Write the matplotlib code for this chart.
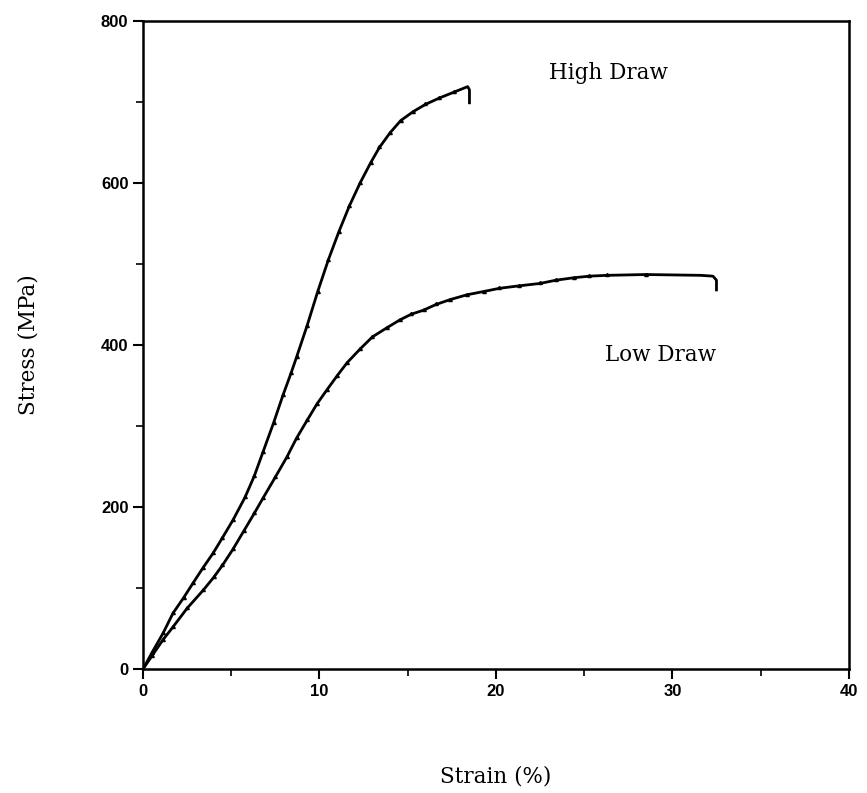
import matplotlib
matplotlib.use("Agg")
import matplotlib.pyplot as plt
from matplotlib.ticker import MultipleLocator

# High draw curve (strain %, stress MPa)
high_strain = [0, 0.5, 1.13, 1.7, 2.3, 2.83, 3.4, 3.97, 4.5, 5.1, 5.78, 6.3, 6.8, 7.4, 7.93, 8.4,
               8.7, 9.3, 9.9, 10.5, 11.1, 11.7, 12.3, 12.9, 13.4, 14.0, 14.6, 15.3, 16.0, 16.8,
               17.6, 18.4, 18.5, 18.5]
high_stress = [0, 20, 44, 69, 88, 106, 125, 143, 162, 184, 212, 238, 268, 304, 338, 366,
               385, 424, 466, 505, 540, 572, 600, 625, 644, 662, 677, 688, 697, 705,
               712, 719, 715, 699]

# Low draw curve
low_strain = [0, 0.5, 1.13, 1.7, 2.5, 3.4, 4.0, 4.5, 5.1, 5.7, 6.3, 6.8, 7.5, 8.16, 8.7, 9.3,
              9.85, 10.4, 11.0, 11.56, 12.3, 13.0, 13.8, 14.56, 15.2, 15.9, 16.6, 17.4, 18.36,
              19.3, 20.2, 21.3, 22.5, 23.4, 24.4, 25.3, 26.3, 28.5, 31.6, 32.3, 32.5, 32.5]
low_stress = [0, 16, 36, 52, 75, 97, 113, 128, 148, 170, 192, 211, 237, 262, 285, 307,
              327, 344, 362, 378, 395, 410, 421, 431, 438, 443, 450, 456, 462,
              466, 470, 473, 476, 480, 483, 485, 486, 487, 486, 485, 480, 468]

x_ticks = [0, 10, 20, 30, 40]
y_ticks = [0, 200, 400, 600, 800]

fig = plt.figure(figsize=(8.67, 7.93), dpi=100)
ax = fig.add_axes([0.165, 0.1564, 0.814, 0.8171])

ax.plot(high_strain, high_stress, color="black", lw=2.0, marker=(3, 0, 0), ms=3,
        markevery=list(range(1, len(high_strain) - 3)))
ax.plot(low_strain, low_stress, color="black", lw=2.0, marker=(3, 0, 0), ms=3,
        markevery=list(range(1, len(low_strain) - 4)))

ax.set_xlim(0, 40)
ax.set_ylim(0, 800)
ax.set_xticks(x_ticks)
ax.set_yticks(y_ticks)
ax.xaxis.set_minor_locator(MultipleLocator(5))
ax.yaxis.set_minor_locator(MultipleLocator(100))
ax.tick_params(which="major", direction="out", length=7, width=1.5, labelsize=12)
ax.tick_params(which="minor", direction="out", length=5, width=1.2)
for lab in ax.get_xticklabels() + ax.get_yticklabels():
    lab.set_family(["Liberation Sans", "DejaVu Sans"])
    lab.set_fontweight("bold")
for s in ax.spines.values():
    s.set_linewidth(1.8)

serif = ["DejaVu Serif"]
ax.set_xlabel("Strain (%)", family=serif, fontsize=15.5, labelpad=48)
ax.set_ylabel("Stress (MPa)", family=serif, fontsize=15.5, labelpad=44)

ax.text(23.0, 736, "High Draw", family=serif, fontsize=15.5, va="center", ha="left")
ax.text(26.2, 388, "Low Draw", family=serif, fontsize=15.5, va="center", ha="left")

fig.savefig("out.png", dpi=100, facecolor="white")
